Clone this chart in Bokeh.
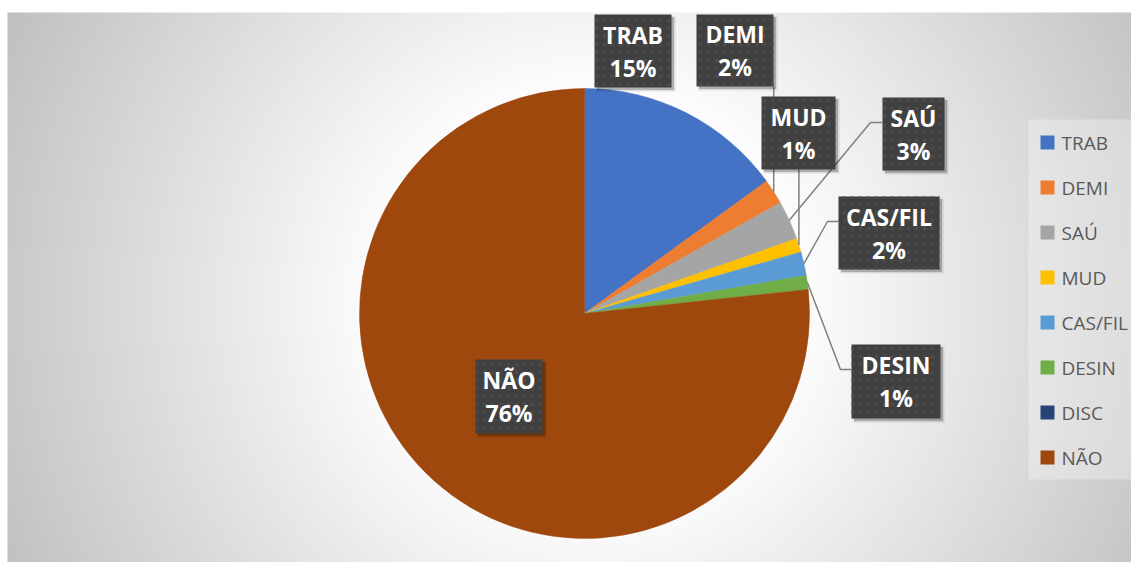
import numpy as np
from bokeh.plotting import figure
from bokeh.models import Range1d
from bokeh.core.properties import value
from bokeh.embed import file_html
from bokeh.resources import INLINE

# ---- data ----
categories = ["TRAB", "DEMI", "SAÚ", "MUD", "CAS/FIL", "DESIN", "DISC", "NÃO"]
values = [15.0, 1.8, 2.8, 1.0, 1.7, 1.0, 0.0, 76.7]
pct_labels = ["15%", "2%", "3%", "1%", "2%", "1%", "", "76%"]
colors = ["#4472C4", "#ED7D31", "#A5A5A5", "#FFC000", "#5B9BD5", "#70AD47", "#264478", "#9E480E"]

# ---- layout (screen pixel coordinates of the reference) ----
W, H = 1131, 562


def sy(y):
    return H - y


CX, CY, R = 584, sy(313), 225
FONT = value("Open Sans")

p = figure(width=W, height=H, output_backend="svg", toolbar_location=None,
           x_range=Range1d(0, W), y_range=Range1d(0, H),
           min_border_top=0, min_border_bottom=0, min_border_left=0, min_border_right=0)
p.axis.visible = False
p.grid.visible = False
p.outline_line_color = None
p.background_fill_color = "white"
p.border_fill_color = "white"

# background radial gradient (chart area starts at x=7, y=12)
x0, y0 = 7, 12
nx, ny = (W - x0) // 2, (H - y0) // 2
xs = np.linspace(x0, W, nx)
ys = np.linspace(H, y0, ny)
X, Y = np.meshgrid(xs, ys)
d = np.hypot(X - 590, Y - 300)
g = np.clip(255 - np.maximum(0, d - 200) * 0.14, 185, 255).astype(np.uint8)
img = np.empty((ny, nx), dtype=np.uint32)
view = img.view(dtype=np.uint8).reshape((ny, nx, 4))
view[..., 0] = g
view[..., 1] = g
view[..., 2] = g
view[..., 3] = 255
p.image_rgba(image=[img], x=x0, y=0, dw=W - x0, dh=H - y0)

# ---- pie ----
vals = np.array(values, dtype=float)
frac = vals / vals.sum()
cum = np.concatenate([[0.0], np.cumsum(frac)])
start = np.pi / 2 - 2 * np.pi * cum[1:]
end = np.pi / 2 - 2 * np.pi * cum[:-1]
mid = np.pi / 2 - 2 * np.pi * (cum[:-1] + frac / 2)
nz = [i for i in range(len(vals)) if vals[i] > 0]
p.wedge(x=CX, y=CY, radius=R,
        start_angle=[start[i] for i in nz], end_angle=[end[i] for i in nz],
        fill_color=[colors[i] for i in nz], line_color=[colors[i] for i in nz], line_width=0.5)

anchor = {categories[i]: (CX + R * np.cos(mid[i]), CY + R * np.sin(mid[i])) for i in range(len(vals))}

# label boxes: center x, center y (screen), width, height
boxes = {
    "TRAB": (632.5, 50.5, 77, 73),
    "DEMI": (734.5, 50.0, 77, 72),
    "MUD": (798.0, 132.5, 74, 73),
    "SAÚ": (913.0, 133.5, 62, 73),
    "CAS/FIL": (888.5, 232.5, 101, 73),
    "DESIN": (895.5, 381.0, 89, 74),
    "NÃO": (508.5, 396.0, 67, 74),
}

# leader lines
lx, ly = [], []
ax, ay = anchor["DEMI"]
lx.append([ax, ax]); ly.append([sy(86), ay])
ax, ay = anchor["MUD"]
lx.append([ax, ax]); ly.append([sy(169), ay])
ax, ay = anchor["SAÚ"]
lx.append([882, 870, ax]); ly.append([sy(122), sy(122), ay])
ax, ay = anchor["CAS/FIL"]
lx.append([838, 827, ax]); ly.append([sy(221), sy(221), ay])
ax, ay = anchor["DESIN"]
lx.append([851, 840, ax]); ly.append([sy(369), sy(369), ay])
p.multi_line(xs=lx, ys=ly, line_color="#808080", line_width=1.5)

names = [c for c in categories if c in boxes]
bx = [boxes[c][0] for c in names]
by = [sy(boxes[c][1]) for c in names]
bw = [boxes[c][2] for c in names]
bh = [boxes[c][3] for c in names]

# shadows
p.rect(x=[v + 3 for v in bx], y=[v - 3 for v in by], width=[w + 2 for w in bw], height=[h + 2 for h in bh],
       fill_color="black", fill_alpha=0.10, line_color=None)
p.rect(x=[v + 2.5 for v in bx], y=[v - 2.5 for v in by], width=bw, height=bh,
       fill_color="black", fill_alpha=0.22, line_color=None)
# boxes
p.rect(x=bx, y=by, width=bw, height=bh, fill_color="#404040", line_color=None,
       hatch_pattern="dot", hatch_color="#4a4a4a", hatch_scale=8, hatch_weight=2)

lab = {categories[i]: pct_labels[i] for i in range(len(categories))}
p.text(x=bx, y=[v + 16.5 for v in by], text=names, text_font=FONT, text_font_style="bold",
       text_font_size="23px", text_color="white", text_align="center", text_baseline="middle")
p.text(x=bx, y=[v - 16.5 for v in by], text=[lab[c] for c in names], text_font=FONT,
       text_font_style="bold", text_font_size="23px", text_color="white",
       text_align="center", text_baseline="middle")

# ---- legend ----
p.rect(x=1084, y=sy(299), width=112, height=360, fill_color="white", fill_alpha=0.3, line_color=None)
leg_y = [sy(142 + 45 * i) for i in range(len(categories))]
p.rect(x=[1047] * len(categories), y=leg_y, width=14, height=14, fill_color=colors, line_color=None)
p.text(x=[1061] * len(categories), y=leg_y, text=categories, text_font=FONT, text_font_size="19px",
       text_color="#595959", text_align="left", text_baseline="middle")

open("out.html", "w").write(file_html(p, INLINE))
